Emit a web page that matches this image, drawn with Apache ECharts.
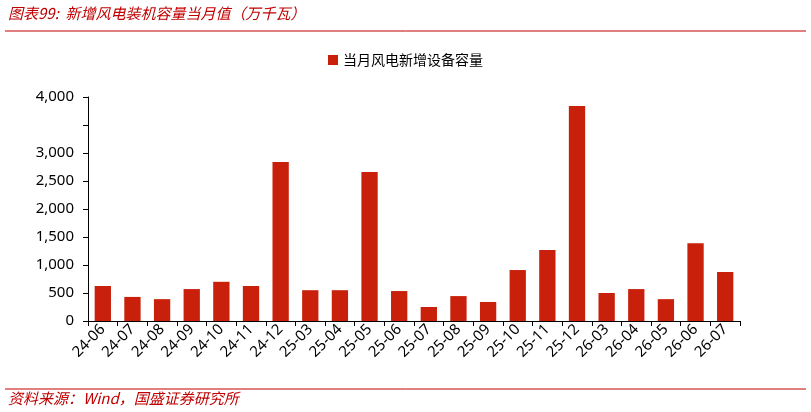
<!DOCTYPE html>
<html><head><meta charset="utf-8">
<script src="https://cdn.jsdelivr.net/npm/echarts@6/dist/echarts.min.js"></script>
<style>html,body{margin:0;padding:0;background:#fff;}#c{width:811px;height:412px;}</style>
</head><body><div id="c"></div>
<script>
const categories = ['24-06','24-07','24-08','24-09','24-10','24-11','24-12','25-03','25-04','25-05','25-06','25-07','25-08','25-09','25-10','25-11','25-12','26-03','26-04','26-05','26-06','26-07'];
const values = [625,430,390,570,700,625,2840,550,550,2660,535,250,445,340,910,1270,3840,500,570,390,1390,875];
const seriesName = '当月风电新增设备容量';
const titleText = '图表99:  新增风电装机容量当月值（万千瓦）';
const sourceText = '资料来源：Wind，国盛证券研究所';
const chart = echarts.init(document.getElementById('c'));
const red = '#C00000';
const bar = '#C8200A';
chart.setOption({
  animation:false,
  graphic:[
    {type:'text',left:8,top:6,style:{text:titleText,fill:red,font:'italic 15px "Noto Sans CJK SC"'}},
    {type:'line',shape:{x1:5,y1:31,x2:806,y2:31},style:{stroke:red,lineWidth:1}},
    {type:'line',shape:{x1:5,y1:389,x2:806,y2:389},style:{stroke:red,lineWidth:1}},
    {type:'text',left:8,top:391,style:{text:sourceText,fill:red,font:'italic 15px "Noto Sans CJK SC"'}}
  ],
  legend:{top:48,left:'center',itemWidth:10,itemHeight:10,icon:'rect',textStyle:{fontSize:14,color:'#000',fontFamily:'"Noto Sans CJK SC"'}},
  grid:{left:88,right:71,top:97,bottom:91},
  xAxis:{type:'category',data:categories,
    axisLine:{lineStyle:{color:'#000'}},axisTick:{show:true,lineStyle:{color:'#000'}},
    axisLabel:{rotate:45,color:'#000',fontSize:15,fontFamily:'"Noto Sans"',interval:0,margin:6}},
  yAxis:{type:'value',min:0,max:4000,interval:500,splitLine:{show:false},
    axisLine:{show:true,lineStyle:{color:'#000'}},axisTick:{show:true,lineStyle:{color:'#000'}},
    axisLabel:{color:'#000',fontSize:15,fontFamily:'"Noto Sans"',margin:14,
      formatter:v=>v===3500?'':v.toLocaleString('en-US')}},
  series:[{name:seriesName,type:'bar',data:values,barWidth:'55%',itemStyle:{color:bar}}]
});
</script></body></html>
